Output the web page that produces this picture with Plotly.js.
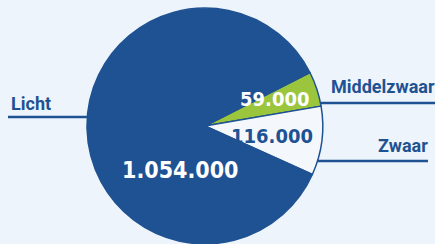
<!DOCTYPE html>
<html><head><meta charset="utf-8">
<script src="https://cdn.plot.ly/plotly-3.0.1.min.js"></script>
<style>html,body{margin:0;padding:0;background:#EEF4FB;}</style>
</head><body>
<div id="chart" style="width:435px;height:244px;"></div>
<script>
const categories = ["Middelzwaar", "Zwaar", "Licht"];
const values = [59000, 116000, 1054000];
const sliceColors = ["#9BC53D", "#F4F8FD", "#1F5292"];
const textColors = ["#FFFFFF", "#1F5292", "#FFFFFF"];

const fmt = v => v.toString().replace(/\B(?=(\d{3})+(?!\d))/g, ".");

const trace = {
  type: "pie",
  labels: categories,
  values: values,
  sort: false,
  direction: "clockwise",
  rotation: 63,
  marker: {colors: sliceColors, line: {color: "#1F5292", width: 1.5}},
  textinfo: "none",
  domain: {x: [0.2, 0.742], y: [0, 0.967]},
  hoverinfo: "none",
  showlegend: false
};

const lineColor = "#1F5292";
const valFont = (c, s) => ({family: "DejaVu Sans Condensed, Liberation Sans Narrow, sans-serif", size: s, color: c, weight: "bold"});
const lblFont = {family: "Roboto, sans-serif", size: 18, color: lineColor, weight: "bold"};
const P = (x, y) => ({x: x/435, y: 1 - y/244});

const ann = [];
const lblPos = [[329, 86], [376, 145], [9, 103]];
categories.forEach((c, i) => {
  const p = P(lblPos[i][0], lblPos[i][1]);
  ann.push({text: c, xref: "paper", yref: "paper", x: p.x, y: p.y, xanchor: "left", yanchor: "middle", showarrow: false, font: lblFont});
});
const valPos = [[274, 99], [272, 136], [180, 170]];
const valSize = [20, 20, 23];
values.forEach((v, i) => {
  const p = P(valPos[i][0], valPos[i][1]);
  ann.push({text: fmt(v), xref: "paper", yref: "paper", x: p.x, y: p.y, xanchor: "center", yanchor: "middle", showarrow: false, font: valFont(textColors[i], valSize[i])});
});

const layout = {
  width: 435, height: 244,
  margin: {l: 0, r: 0, t: 0, b: 0},
  paper_bgcolor: "#EEF4FB",
  plot_bgcolor: "#EEF4FB",
  showlegend: false,
  shapes: [
    {type: "line", xref: "paper", yref: "paper", x0: 8/435, x1: 88/435, y0: 1-117/244, y1: 1-117/244, line: {color: lineColor, width: 2.5}},
    {type: "line", xref: "paper", yref: "paper", x0: 321/435, x1: 435/435, y0: 1-103/244, y1: 1-103/244, line: {color: lineColor, width: 2.5}},
    {type: "line", xref: "paper", yref: "paper", x0: 317/435, x1: 428/435, y0: 1-161/244, y1: 1-161/244, line: {color: lineColor, width: 2.5}}
  ],
  annotations: ann
};

Plotly.newPlot("chart", [trace], layout, {displayModeBar: false, staticPlot: true});
</script>
</body></html>
